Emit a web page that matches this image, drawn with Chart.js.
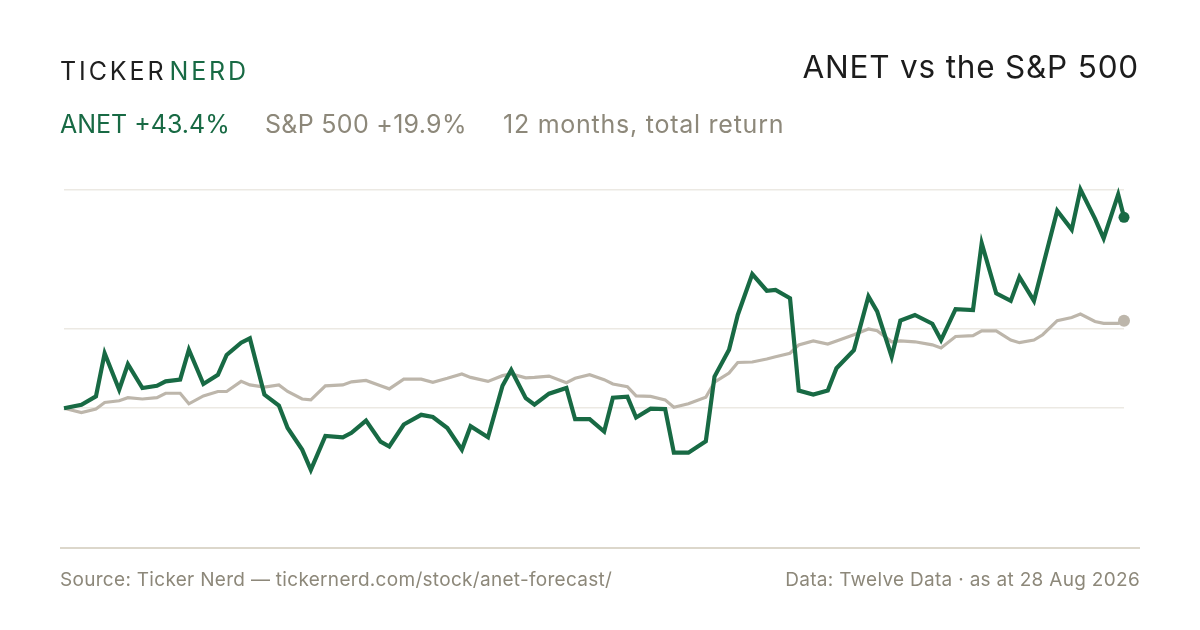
<!DOCTYPE html>
<html>
<head>
<meta charset="utf-8">
<script src="https://cdn.jsdelivr.net/npm/chart.js@4"></script>
<style>
  html, body { margin: 0; padding: 0; background: #ffffff; }
  body { width: 1200px; height: 630px; position: relative; overflow: hidden; font-family: "Inter", "Roboto", sans-serif; }
  #logo { position: absolute; left: 60px; top: 56px; font-size: 25px; letter-spacing: 2.9px; color: #1f1f1f; font-weight: 400; line-height: 30px; white-space: nowrap; }
  #logo .g { color: #186a44; margin-left: 3px; }
  #title { position: absolute; right: 61px; top: 48px; font-size: 31.5px; letter-spacing: 0.8px; color: #1c1c1c; line-height: 38px; white-space: nowrap; }
  .sub { position: absolute; top: 109px; font-size: 25px; line-height: 30px; white-space: nowrap; }
  #s1 { left: 60px; color: #186a44; }
  #s2 { left: 265px; color: #8d887a; letter-spacing: 0.3px; }
  #s3 { left: 503px; color: #8d887a; letter-spacing: 0.75px; }
  #rule { position: absolute; left: 60px; top: 547px; width: 1080px; height: 2px; background: #dcd7cb; }
  #src { position: absolute; left: 60px; top: 569px; font-size: 19px; letter-spacing: 0.3px; color: #8d887a; line-height: 22px; white-space: nowrap; }
  #data { position: absolute; right: 60px; top: 569px; font-size: 19px; letter-spacing: 0.3px; color: #8d887a; line-height: 22px; white-space: nowrap; }
  #wrap { position: absolute; left: 0; top: 0; width: 1200px; height: 630px; }
</style>
</head>
<body>
<div id="wrap"><canvas id="c"></canvas></div>
<div id="logo">TICKER<span class="g">NERD</span></div>
<div id="title">ANET vs the S&amp;P 500</div>
<div class="sub" id="s1">ANET +43.4%</div>
<div class="sub" id="s2">S&amp;P 500 +19.9%</div>
<div class="sub" id="s3">12 months, total return</div>
<div id="rule"></div>
<div id="src">Source: Ticker Nerd — tickernerd.com/stock/anet-forecast/</div>
<div id="data">Data: Twelve Data · as at 28 Aug 2026</div>
<script>
// Day offsets (calendar days from start of the 12-month window)
const days = [0,6,11,14,19,22,27,32,35,40,43,48,53,56,61,64,69,74,77,82,85,90,96,99,104,109,112,117,123,127,132,137,140,146,151,154,159,162,167,173,176,181,186,189,194,197,202,207,210,215,221,224,229,232,237,242,245,250,253,258,263,266,272,277,280,285,288,293,299,302,307,313,316,321,326,329,334,337,342,347,350,355,358,363,365];

// Total return, % (ANET)
const anet = [0,0.8,2.7,12.5,4.2,10.0,4.6,5.1,6.1,6.5,13.3,5.5,7.6,12.1,14.9,15.9,3.1,0.6,-4.5,-9.4,-14.0,-6.3,-6.6,-5.6,-2.8,-7.6,-8.7,-3.7,-1.5,-2.0,-4.5,-9.4,-4.1,-6.6,5.1,8.7,2.3,0.8,3.3,4.6,-2.5,-2.5,-5.3,2.4,2.6,-2.1,-0.1,-0.2,-10.1,-10.1,-7.5,7.2,13.3,21.2,30.5,26.7,26.9,25.0,4.0,3.1,4.0,9.1,13.2,25.4,22.0,11.7,19.9,21.2,19.2,15.5,22.5,22.3,37.5,26.1,24.4,29.8,24.4,32.1,44.9,40.6,49.7,43.1,38.6,48.6,43.4];

// Total return, % (S&P 500)
const spx = [0,-1.0,-0.2,1.3,1.7,2.4,2.1,2.4,3.4,3.4,1.0,2.8,3.8,3.8,6.1,5.3,4.8,5.3,3.8,2.1,1.9,5.1,5.3,6.0,6.3,5.1,4.4,6.6,6.6,5.9,6.8,7.8,7.0,6.1,7.4,7.8,6.9,7.0,7.3,5.8,6.8,7.6,6.5,5.5,4.9,2.8,2.7,1.9,0.2,1.0,2.5,5.9,8.0,10.4,10.5,11.2,11.7,12.5,14.4,15.3,14.6,15.3,16.7,18.0,17.6,15.1,15.3,15.1,14.4,13.7,16.3,16.5,17.6,17.6,15.5,14.9,15.5,16.7,19.9,20.6,21.4,19.7,19.3,19.3,19.9];

// Unlabelled horizontal guide lines (%)
const gridValues = [0, 18, 49.6];
const yMin = -32, yMax = 49.6;

const GREEN = '#186a44';
const GREY = '#bdb6ab';

const toPts = arr => arr.map((v, i) => ({ x: days[i], y: v }));
const lastRadius = r => ctx => (ctx.dataIndex === days.length - 1 ? r : 0);

new Chart(document.getElementById('c'), {
  type: 'line',
  data: {
    datasets: [
      {
        label: 'ANET',
        data: toPts(anet),
        borderColor: GREEN,
        backgroundColor: GREEN,
        borderWidth: 4.2,
        pointRadius: lastRadius(5.5),
        pointHoverRadius: 0,
        pointBorderWidth: 0,
        tension: 0,
        borderJoinStyle: 'miter',
        clip: false,
        order: 0
      },
      {
        label: 'S&P 500',
        data: toPts(spx),
        borderColor: GREY,
        backgroundColor: GREY,
        borderWidth: 3.2,
        pointRadius: lastRadius(6),
        pointHoverRadius: 0,
        pointBorderWidth: 0,
        tension: 0,
        clip: false,
        order: 1
      }
    ]
  },
  options: {
    responsive: true,
    maintainAspectRatio: false,
    animation: false,
    events: [],
    layout: { padding: { left: 64, right: 76, top: 190, bottom: 81 } },
    plugins: { legend: { display: false }, tooltip: { enabled: false } },
    scales: {
      x: { type: 'linear', min: 0, max: 365, display: false },
      y: {
        type: 'linear',
        min: yMin,
        max: yMax,
        afterBuildTicks: s => { s.ticks = gridValues.map(v => ({ value: v })); },
        ticks: { display: false },
        border: { display: false },
        grid: { color: '#ece9e3', lineWidth: 1.6, drawTicks: false }
      }
    }
  }
});
</script>
</body>
</html>
